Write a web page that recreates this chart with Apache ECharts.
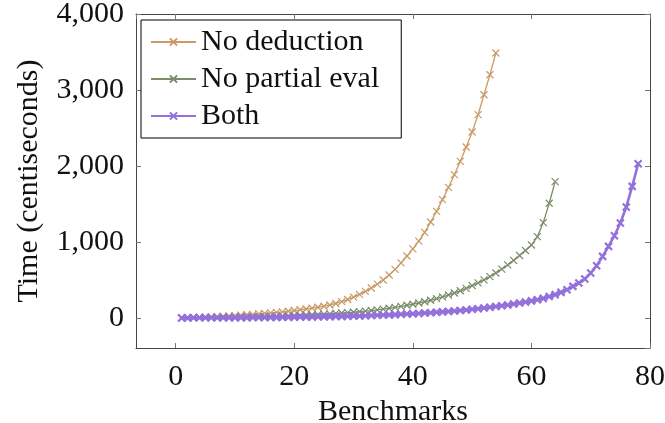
<!DOCTYPE html>
<html>
<head>
<meta charset="utf-8">
<title>Benchmarks</title>
<script src="https://cdn.jsdelivr.net/npm/echarts@6/dist/echarts.min.js"></script>
<style>
	html, body { margin: 0; padding: 0; background: #fff; }
	#main { width: 665px; height: 423px; }
</style>
</head>
<body>
<div id="main"></div>
<script>
var seriesNames = ['No deduction', 'No partial eval', 'Both'];
var seriesColors = ['#c99a66', '#7a8c68', '#9370db'];

// 时间（厘秒），按基准编号 1..N
var noDeduction = [4, 6, 8, 10, 13, 16, 19, 23, 27, 32, 37, 42, 48, 54, 60, 67, 74, 81, 89, 98,
	108, 118, 129, 141, 155, 171, 191, 215, 243, 275, 310, 350, 395, 445, 500, 565, 640, 725, 815, 910,
	1012, 1126, 1263, 1403, 1557, 1718, 1886, 2061, 2250, 2447, 2675, 2938, 3200, 3487];
var noPartialEval = [2, 3, 4, 5, 6, 7, 8, 10, 11, 12, 14, 15, 17, 19, 21, 23, 25, 28, 31, 34,
	37, 40, 43, 47, 51, 55, 60, 65, 70, 76, 83, 90, 98, 107, 117, 128, 140, 153, 167, 181,
	197, 214, 233, 254, 277, 302, 329, 358, 390, 425, 462, 502, 545, 592, 642, 698, 758, 822, 888, 960,
	1070, 1255, 1510, 1795];
var both = [1, 1, 2, 2, 2, 3, 3, 3, 4, 4, 5, 5, 6, 6, 7, 8, 8, 9, 10, 11,
	12, 13, 14, 15, 16, 18, 19, 21, 23, 25, 27, 29, 32, 35, 38, 41, 44, 48, 52, 56,
	60, 65, 70, 75, 80, 86, 92, 99, 106, 114, 122, 131, 140, 150, 160, 171, 183, 196, 210, 225,
	241, 258, 283, 307, 337, 372, 416, 461, 513, 592, 688, 811, 942, 1083, 1250, 1461, 1732, 2030];

var xTicks = [0, 20, 40, 60, 80];
var yTicks = [0, 1000, 2000, 3000, 4000];

var FONT = '"Liberation Serif", "DejaVu Serif", serif';
var crossSymbol = 'path://M0,0L10,10M0,10L10,0';

function toPoints(values){
	var pts = [];
	for(var i = 0; i < values.length; i++){
		pts.push([i + 1, values[i]]);
	}
	return pts;
}

function fmt(v){
	return v.toLocaleString('en-US');
}

var myChart = echarts.init(document.getElementById('main'), null, {renderer: 'canvas'});

var frameLine = { show: true, onZero: false, lineStyle: { color: '#444', width: 1 } };
var innerTick = { show: true, inside: true, length: 5, lineStyle: { color: '#777', width: 1 } };

function makeAxis(isX, main){
	var ticks = isX ? xTicks : yTicks;
	var step = ticks[1] - ticks[0];
	return {
		type: 'value',
		position: isX ? (main ? 'bottom' : 'top') : (main ? 'left' : 'right'),
		min: isX ? -6.7 : -395,
		max: isX ? 80 : 4000,
		minInterval: step,
		maxInterval: step,
		splitLine: { show: false },
		axisLine: frameLine,
		axisTick: innerTick,
		axisLabel: {
			show: main,
			showMinLabel: false,
			margin: isX ? 14 : 12,
			color: '#111',
			fontFamily: FONT,
			fontSize: 30,
			formatter: function (v){ return fmt(v); }
		},
		name: main ? (isX ? 'Benchmarks' : 'Time (centiseconds)') : '',
		nameLocation: 'middle',
		nameGap: isX ? 36 : 92,
		nameTextStyle: { color: '#111', fontFamily: FONT, fontSize: 30 }
	};
}

var allData = [noDeduction, noPartialEval, both];
var series = [];
for(var s = 0; s < allData.length; s++){
	var thick = s == 2;
	series.push({
		name: seriesNames[s],
		type: 'line',
		xAxisIndex: 0,
		yAxisIndex: 0,
		data: toPoints(allData[s]),
		symbol: crossSymbol,
		symbolSize: 7,
		showSymbol: true,
		color: seriesColors[s],
		lineStyle: { color: seriesColors[s], width: thick ? 2.6 : 1.3 },
		itemStyle: { color: seriesColors[s], borderColor: seriesColors[s], borderWidth: thick ? 2.2 : 1.2 },
		emphasis: { disabled: true },
		z: 3 + s
	});
}

var option = {
	animation: false,
	backgroundColor: '#fff',
	grid: { left: 136, right: 15, top: 14, bottom: 75, containLabel: false, outerBoundsMode: 'none' },
	legend: {
		data: seriesNames,
		orient: 'vertical',
		left: 141,
		top: 20,
		padding: [7, 22, 7, 9],
		itemGap: 7,
		itemWidth: 45,
		itemHeight: 9,
		borderColor: '#000',
		borderWidth: 1,
		backgroundColor: '#fff',
		textStyle: { color: '#111', fontFamily: FONT, fontSize: 30, lineHeight: 30 }
	},
	xAxis: [makeAxis(true, true), makeAxis(true, false)],
	yAxis: [makeAxis(false, true), makeAxis(false, false)],
	series: series
};

myChart.setOption(option);
</script>
</body>
</html>
